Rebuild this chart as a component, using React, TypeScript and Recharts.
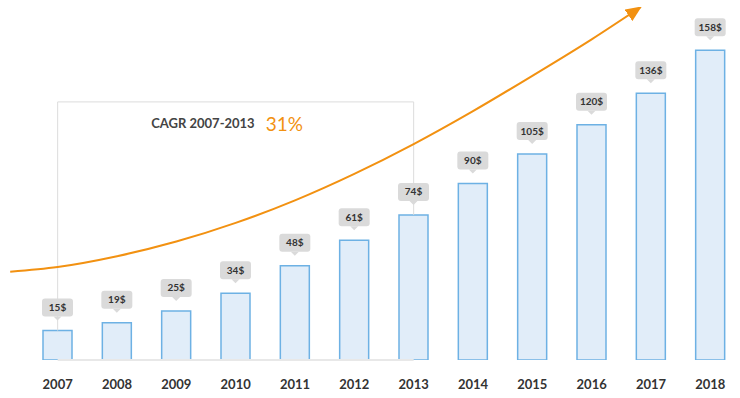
import { ComposedChart, Bar, Line, XAxis, YAxis, LabelList, ReferenceLine } from 'recharts';

const years = ['2007', '2008', '2009', '2010', '2011', '2012', '2013', '2014', '2015', '2016', '2017', '2018'];
const prices = [15, 19, 25, 34, 48, 61, 74, 90, 105, 120, 136, 158];

// growth arrow in (category index, value) units
const trendIdx = [-0.8, 0, 1, 2, 3, 4, 5, 6, 7, 8, 9, 9.83];
const trendVal = [45, 47.4, 52.9, 60.4, 69.9, 81.4, 94.9, 110.1, 126.9, 144.9, 163.5, 180];

const cagrFrom = 0;
const cagrTo = 6;
const cagrTop = 131.6;
const cagrTitle = 'CAGR 2007-2013';
const cagrValue = '31%';

const rows = years.map((y, i) => ({ idx: i, year: y, value: prices[i] }));
const trendRows = trendIdx.map((x, i) => ({ idx: x, v: trendVal[i] }));

const orange = '#f29111';

const W = 740;
const padLeft = 28;
const band = (W - padLeft) / years.length;
// index axis lined up with the category bands
const idxDomain = [-(padLeft + band / 2) / band, (W - padLeft - band / 2) / band];

const PriceTag = (props: any) => {
  const vb = props.viewBox || props;
  const { x, y, width } = vb;
  const cx = x + width / 2;
  const bottom = y - 14;
  const top = bottom - 18;
  return (
    <g>
      <rect x={cx - 15.5} y={top} width={31} height={18} rx={3} fill="#dadada" />
      <path d={`M${cx - 4},${bottom} L${cx + 4},${bottom} L${cx},${bottom + 4} Z`} fill="#dadada" />
      <text x={cx} y={bottom - 5.5} textAnchor="middle" fontSize={10} fontWeight="bold" fill="#333">
        {props.value}$
      </text>
    </g>
  );
};

const CagrLabel = (props: any) => {
  const { x, y } = props.viewBox;
  return (
    <g>
      <text x={x + 197} y={y + 26.5} textAnchor="end" fontSize={13} fontWeight="bold" fill="#444">
        {cagrTitle}
      </text>
      <text x={x + 208} y={y + 29} fontSize={19} fill={orange}>
        {cagrValue}
      </text>
    </g>
  );
};

export default function App() {
  return (
    <div style={{ position: 'absolute', left: 0, top: 0 }}>
      <ComposedChart
        width={W}
        height={398}
        data={rows}
        margin={{ top: 7, right: 0, left: 0, bottom: 0 }}
        style={{ fontFamily: 'Lato, sans-serif' }}
      >
        <defs>
          <marker
            id="arrowHead"
            markerUnits="userSpaceOnUse"
            markerWidth={16}
            markerHeight={14}
            refX={15}
            refY={7}
            orient="auto"
          >
            <path d="M0,0 L16,7 L0,14 Z" fill={orange} />
          </marker>
        </defs>
        <XAxis
          dataKey="year"
          padding={{ left: padLeft, right: 0 }}
          interval={0}
          axisLine={false}
          tickLine={false}
          tickMargin={14}
          height={38}
          tick={{ fontSize: 13, fontWeight: 'bold', fill: '#333' }}
        />
        <XAxis xAxisId="trend" type="number" dataKey="idx" domain={idxDomain} allowDataOverflow hide />
        <YAxis hide domain={[0, 180]} allowDataOverflow />
        <ReferenceLine
          xAxisId="trend"
          segment={[{ x: cagrFrom, y: 0 }, { x: cagrTo, y: 0 }]}
          stroke="#e8e8e8"
          strokeWidth={2}
          ifOverflow="visible"
        />
        <ReferenceLine
          xAxisId="trend"
          segment={[{ x: cagrFrom, y: prices[cagrFrom] }, { x: cagrFrom, y: cagrTop }]}
          stroke="#dcdcdc"
          ifOverflow="visible"
        />
        <ReferenceLine
          xAxisId="trend"
          segment={[{ x: cagrTo, y: prices[cagrTo] }, { x: cagrTo, y: cagrTop }]}
          stroke="#dcdcdc"
          ifOverflow="visible"
        />
        <ReferenceLine
          xAxisId="trend"
          segment={[{ x: cagrFrom, y: cagrTop }, { x: cagrTo, y: cagrTop }]}
          stroke="#dcdcdc"
          ifOverflow="visible"
          label={<CagrLabel />}
        />
        <Bar dataKey="value" barSize={29} fill="#e1edf9" stroke="#6db1e4" strokeWidth={1.5} isAnimationActive={false}>
          <LabelList dataKey="value" content={<PriceTag />} />
        </Bar>
        <Line
          xAxisId="trend"
          data={trendRows}
          dataKey="v"
          type="monotone"
          stroke={orange}
          strokeWidth={2}
          dot={false}
          activeDot={false}
          markerEnd="url(#arrowHead)"
          isAnimationActive={false}
        />
      </ComposedChart>
    </div>
  );
}
